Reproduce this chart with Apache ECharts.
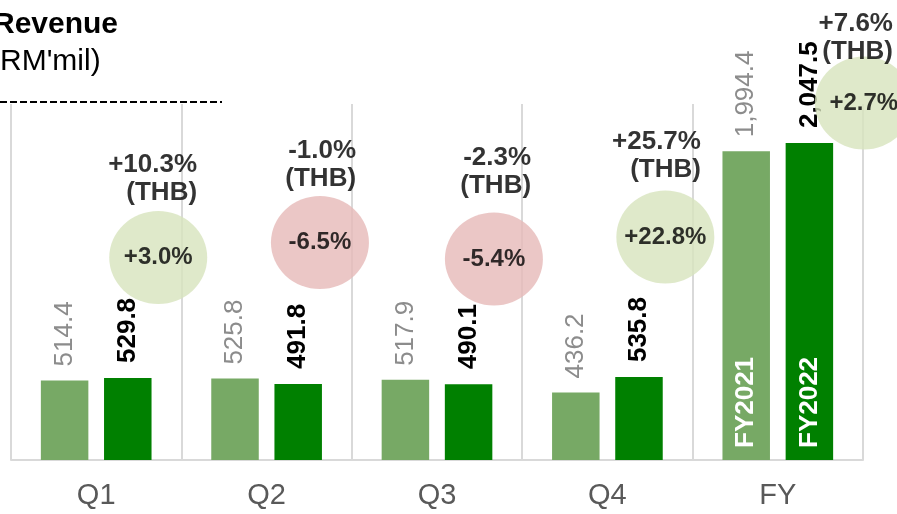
<!DOCTYPE html>
<html>
<head>
<meta charset="utf-8">
<script src="https://cdn.jsdelivr.net/npm/echarts@6/dist/echarts.min.js"></script>
<style>
html,body{margin:0;padding:0;background:#fff;}
#chart{width:897px;height:514px;}
</style>
</head>
<body>
<div id="chart"></div>
<script>
// ---- data ----
const categories = ['Q1', 'Q2', 'Q3', 'Q4', 'FY'];
const seriesNames = ['FY2021', 'FY2022'];
const revenue2021 = [514.4, 525.8, 517.9, 436.2, 1994.4];
const revenue2022 = [529.8, 491.8, 490.1, 535.8, 2047.5];
const growthRM = ['+3.0%', '-6.5%', '-5.4%', '+22.8%', '+2.7%'];
const growthTHB = ['+10.3%', '-1.0%', '-2.3%', '+25.7%', '+7.6%'];

// ---- annotation layout (data-space anchors on a hidden 0..5 category-unit axis) ----
const bubbleAnchors = [[0.864, 1308], [1.813, 1405], [2.834, 1299], [3.840, 1441], [5.005, 2307]];
const thbAnchors = [[1.092, 1818], [2.025, 1906], [3.052, 1861], [4.049, 1966], [5.176, 2726]];

const FONT = '"Liberation Sans", Arial, Helvetica, sans-serif';
const LIGHT = '#77A965';
const DARK = '#008000';
const GREEN_BUBBLE = '#D7E4BD';
const RED_BUBBLE = '#E6B9B8';

function fmt(v) {
  return Number(v).toLocaleString('en-US', {minimumFractionDigits: 1, maximumFractionDigits: 1});
}

const chart = echarts.init(document.getElementById('chart'));
const lastIdx = categories.length - 1;

const option = {
  animation: false,
  backgroundColor: '#ffffff',
  textStyle: {fontFamily: FONT},
  grid: {left: 11, right: 34, top: 104, bottom: 54},
  xAxis: [
    {
      type: 'category',
      data: categories,
      axisLine: {show: true, lineStyle: {color: '#D9D9D9', width: 2}},
      axisTick: {show: false},
      axisLabel: {color: '#595959', fontSize: 29, fontFamily: FONT, margin: 21},
      splitLine: {show: true, lineStyle: {color: '#D9D9D9', width: 2}}
    },
    {type: 'category', data: categories, show: false},
    {type: 'value', min: 0, max: 5, show: false}
  ],
  yAxis: {type: 'value', min: 0, max: 2300, show: false},
  graphic: [
    {type: 'text', left: -7, top: 10, style: {text: 'Revenue', font: 'bold 30px ' + FONT, fill: '#000'}},
    {type: 'text', left: -10, top: 47, style: {text: "(RM'mil)", font: '30px ' + FONT, fill: '#000'}},
    {type: 'line', shape: {x1: 0, y1: 102, x2: 222, y2: 102}, style: {stroke: '#000', lineWidth: 2, lineDash: [7, 3]}}
  ],
  series: [
    {
      name: seriesNames[0], type: 'bar', xAxisIndex: 0, data: revenue2021,
      barWidth: 47.5, barGap: '33%',
      itemStyle: {color: LIGHT},
      label: {
        show: true, position: 'top', rotate: 90, align: 'left', verticalAlign: 'middle',
        distance: 14, color: '#8C8C8C', fontSize: 26, fontFamily: FONT,
        formatter: p => fmt(p.value)
      }
    },
    {
      name: seriesNames[1], type: 'bar', xAxisIndex: 0, data: revenue2022,
      barWidth: 47.5, barGap: '33%',
      itemStyle: {color: DARK},
      label: {
        show: true, position: 'top', rotate: 90, align: 'left', verticalAlign: 'middle',
        distance: 15, color: '#000', fontWeight: 'bold', fontSize: 26, fontFamily: FONT,
        formatter: p => fmt(p.value)
      }
    },
    {
      name: seriesNames[0] + '-tag', type: 'bar', xAxisIndex: 1,
      data: revenue2021.map((v, i) => i === lastIdx ? v : '-'),
      barWidth: 47.5, barGap: '33%', silent: true,
      itemStyle: {color: 'rgba(0,0,0,0)'},
      label: {
        show: true, position: 'insideBottom', rotate: 90, align: 'left', verticalAlign: 'middle',
        distance: 12, color: '#fff', fontWeight: 'bold', fontSize: 26, fontFamily: FONT,
        formatter: () => seriesNames[0]
      }
    },
    {
      name: seriesNames[1] + '-tag', type: 'bar', xAxisIndex: 1,
      data: revenue2022.map((v, i) => i === lastIdx ? v : '-'),
      barWidth: 47.5, barGap: '33%', silent: true,
      itemStyle: {color: 'rgba(0,0,0,0)'},
      label: {
        show: true, position: 'insideBottom', rotate: 90, align: 'left', verticalAlign: 'middle',
        distance: 12, color: '#fff', fontWeight: 'bold', fontSize: 26, fontFamily: FONT,
        formatter: () => seriesNames[1]
      }
    },
    {
      name: 'growthRM', type: 'scatter', xAxisIndex: 2, yAxisIndex: 0, clip: false,
      symbol: 'circle', symbolSize: [98, 93], z: 3,
      data: bubbleAnchors.map((c, i) => ({
        value: c,
        itemStyle: {color: growthRM[i].charAt(0) === '-' ? RED_BUBBLE : GREEN_BUBBLE}
      })),
      label: {
        show: true, position: 'inside', color: '#000', fontWeight: 'bold', fontSize: 24, fontFamily: FONT,
        formatter: p => growthRM[p.dataIndex]
      }
    },
    {
      name: 'growthTHB', type: 'scatter', xAxisIndex: 2, yAxisIndex: 0, clip: false,
      symbolSize: 0, z: 4,
      data: thbAnchors,
      label: {
        show: true, position: 'inside', align: 'right', verticalAlign: 'middle',
        color: '#000', fontWeight: 'bold', fontSize: 26, lineHeight: 28, fontFamily: FONT,
        formatter: p => growthTHB[p.dataIndex] + '\n(THB)'
      }
    }
  ]
};
chart.setOption(option);
</script>
</body>
</html>
